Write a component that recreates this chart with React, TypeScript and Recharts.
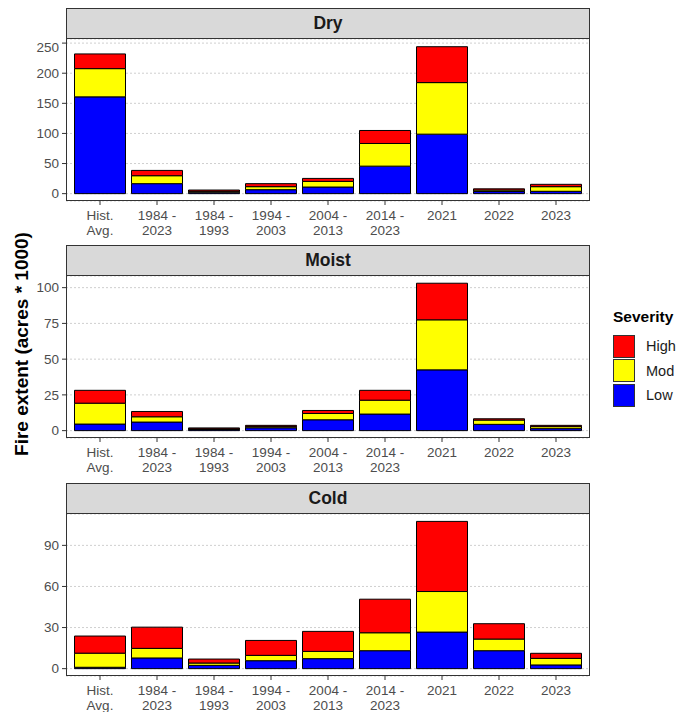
import React from "react";
import { BarChart, Bar, XAxis, YAxis, CartesianGrid } from "recharts";

const categories = [
  "Hist.\nAvg.",
  "1984 -\n2023",
  "1984 -\n1993",
  "1994 -\n2003",
  "2004 -\n2013",
  "2014 -\n2023",
  "2021",
  "2022",
  "2023",
];

// fire extent, acres * 1000
const dryLow = [160.7, 16.6, 2.5, 6.6, 11, 45.7, 98.8, 3.5, 3.9];
const dryMod = [46.9, 13.2, 1.5, 5, 9.4, 37.6, 85.6, 2.5, 7.7];
const dryHigh = [24.4, 8.8, 2, 5, 4.9, 21.6, 59.6, 2, 3.9];

const moistLow = [4.6, 6, 0.8, 2, 7.6, 11.6, 42.5, 4.4, 1.4];
const moistMod = [14.6, 3.7, 0.5, 0.8, 4.4, 9.7, 35, 3, 1.4];
const moistHigh = [9, 3.7, 0.6, 0.9, 2.1, 6.9, 25.6, 0.9, 0.9];

const coldLow = [1, 7.8, 2.4, 5.8, 7.3, 13.1, 26.7, 13.1, 2.7];
const coldMod = [10.3, 7, 1.7, 3.9, 5.3, 13.1, 29.6, 8.5, 4.8];
const coldHigh = [12.5, 15.5, 2.9, 10.9, 14.6, 24.5, 51.2, 11.2, 3.7];

const dryTicks = [0, 50, 100, 150, 200, 250];
const moistTicks = [0, 25, 50, 75, 100];
const coldTicks = [0, 30, 60, 90];

const severity = [
  { key: "High", color: "#ff0000" },
  { key: "Mod", color: "#ffff00" },
  { key: "Low", color: "#0000ff" },
];

const FONT = "'Liberation Sans', Arial, sans-serif";
const PLOT_LEFT = 66;
const PLOT_W = 524;
const STRIP_H = 31;
const PLOT_H = 162;

const rows = (low: number[], mod: number[], high: number[]) =>
  categories.map((cat, i) => ({ cat, Low: low[i], Mod: mod[i], High: high[i] }));

const panels = [
  { title: "Dry", top: 8, data: rows(dryLow, dryMod, dryHigh), ticks: dryTicks, domain: [-12.2, 256.8] },
  { title: "Moist", top: 245, data: rows(moistLow, moistMod, moistHigh), ticks: moistTicks, domain: [-5.15, 108.15] },
  { title: "Cold", top: 483, data: rows(coldLow, coldMod, coldHigh), ticks: coldTicks, domain: [-5.37, 112.9] },
];

const XTick = (props: any) => {
  const { x, y, payload } = props;
  const lines = String(payload.value).split("\n");
  return (
    <g transform={`translate(${x},${y})`}>
      {lines.map((l: string, i: number) => (
        <text key={i} x={0} y={15 + i * 14.5} textAnchor="middle" fill="#4d4d4d" fontSize={13.5} fontFamily={FONT}>
          {l}
        </text>
      ))}
    </g>
  );
};

function Panel({ p }: { p: (typeof panels)[number] }) {
  return (
    <>
      <div
        style={{
          position: "absolute",
          left: 0,
          top: p.top + STRIP_H,
        }}
      >
        <BarChart
          width={600}
          height={PLOT_H + 40}
          data={p.data}
          margin={{ top: 0, right: 10, bottom: 0, left: 0 }}
        >
          <CartesianGrid vertical={false} stroke="#cfcfcf" strokeDasharray="2 2" />
          <XAxis
            dataKey="cat"
            interval={0}
            height={40}
            padding={{ left: 5.5, right: 5.5 }}
            axisLine={false}
            tickLine={{ stroke: "#333333" }}
            tickSize={4}
            tickMargin={0}
            tick={<XTick />}
          />
          <YAxis
            type="number"
            width={PLOT_LEFT}
            domain={p.domain}
            ticks={p.ticks}
            allowDataOverflow
            axisLine={false}
            tickLine={{ stroke: "#333333" }}
            tickSize={4}
            tickMargin={3}
            tick={{ fill: "#4d4d4d", fontSize: 13.5, fontFamily: FONT }}
          />
          <Bar dataKey="Low" stackId="s" fill="#0000ff" stroke="#000" strokeWidth={1} barSize={51} isAnimationActive={false} />
          <Bar dataKey="Mod" stackId="s" fill="#ffff00" stroke="#000" strokeWidth={1} barSize={51} isAnimationActive={false} />
          <Bar dataKey="High" stackId="s" fill="#ff0000" stroke="#000" strokeWidth={1} barSize={51} isAnimationActive={false} />
        </BarChart>
      </div>
      <div
        style={{
          position: "absolute",
          left: PLOT_LEFT,
          top: p.top,
          width: PLOT_W,
          height: STRIP_H + PLOT_H,
          boxSizing: "border-box",
          border: "1px solid #333333",
          pointerEvents: "none",
        }}
      >
        <div
          style={{
            height: STRIP_H - 1,
            background: "#d9d9d9",
            borderBottom: "1px solid #333333",
            boxSizing: "border-box",
            display: "flex",
            alignItems: "center",
            justifyContent: "center",
            fontWeight: "bold",
            fontSize: 17.5,
            color: "#1a1a1a",
          }}
        >
          {p.title}
        </div>
      </div>
    </>
  );
}

export default function App() {
  return (
    <div
      style={{
        position: "absolute",
        left: 0,
        top: 0,
        width: 678,
        height: 712,
        background: "#fff",
        fontFamily: FONT,
      }}
    >
      {panels.map((p) => (
        <Panel key={p.title} p={p} />
      ))}
      <div
        style={{
          position: "absolute",
          left: 22,
          top: 344,
          transform: "translate(-50%, -50%) rotate(-90deg)",
          whiteSpace: "nowrap",
          fontWeight: "bold",
          fontSize: 19,
          color: "#000",
        }}
      >
        Fire extent (acres * 1000)
      </div>
      <div style={{ position: "absolute", left: 613, top: 307 }}>
        <div style={{ fontWeight: "bold", fontSize: 15.5, color: "#000", lineHeight: "20px", marginBottom: 7 }}>
          Severity
        </div>
        {severity.map((s) => (
          <div key={s.key} style={{ display: "flex", alignItems: "center", height: 24.5 }}>
            <div
              style={{
                width: 22,
                height: 23,
                boxSizing: "border-box",
                background: s.color,
                border: "1px solid #333333",
              }}
            />
            <span style={{ marginLeft: 11, fontSize: 14.5, color: "#1a1a1a" }}>{s.key}</span>
          </div>
        ))}
      </div>
    </div>
  );
}
